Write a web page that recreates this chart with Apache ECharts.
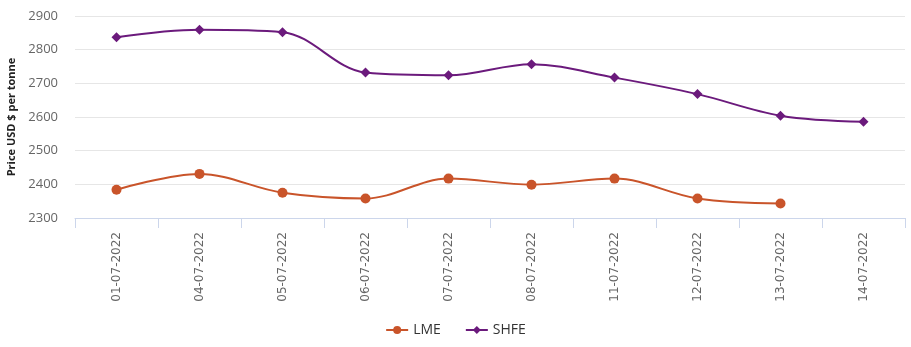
<!DOCTYPE html>
<html>
<head>
<meta charset="utf-8">
<script src="https://cdn.jsdelivr.net/npm/echarts@6/dist/echarts.min.js"></script>
<style>
html,body{margin:0;padding:0;background:#fff;}
#chart{width:911px;height:347px;}
</style>
</head>
<body>
<div id="chart"></div>
<script>
var categories = ['01-07-2022','04-07-2022','05-07-2022','06-07-2022','07-07-2022','08-07-2022','11-07-2022','12-07-2022','13-07-2022','14-07-2022'];
var lmeValues = [2384, 2431, 2375, 2358, 2417, 2399, 2417, 2358, 2343, null];
var shfeValues = [2837, 2859, 2852, 2732, 2724, 2757, 2717, 2668, 2604, 2586];
var yTicks = { min: 2300, max: 2900, interval: 100 };

var chart = echarts.init(document.getElementById('chart'));
chart.setOption({
  animation: false,
  backgroundColor: '#fff',
  grid: { left: 75, right: 6, top: 16, bottom: 129, containLabel: false, outerBoundsMode: 'none' },
  legend: {
    bottom: 5,
    left: 'center',
    itemWidth: 22,
    itemHeight: 10,
    itemGap: 24,
    textStyle: { color: '#333', fontSize: 14, fontFamily: 'Liberation Sans Narrow, Open Sans' },
    data: ['LME', 'SHFE']
  },
  xAxis: {
    type: 'category',
    data: categories,
    boundaryGap: true,
    axisLine: { lineStyle: { color: '#ccd6eb' } },
    axisTick: { show: true, length: 10, lineStyle: { color: '#ccd6eb' } },
    axisLabel: {
      rotate: 90,
      color: '#666',
      fontSize: 12,
      margin: 14,
      fontFamily: 'DejaVu Sans',
      interval: 0
    }
  },
  yAxis: {
    type: 'value',
    min: yTicks.min,
    max: yTicks.max,
    interval: yTicks.interval,
    name: 'Price USD $ per tonne',
    nameLocation: 'middle',
    nameGap: 55,
    nameTextStyle: { fontWeight: 'bold', fontSize: 11, color: '#222', fontFamily: 'Open Sans' },
    axisLine: { show: false },
    axisTick: { show: false },
    axisLabel: { color: '#666', fontSize: 13, margin: 17, fontFamily: 'Open Sans', formatter: function (v) { return String(v); } },
    splitLine: { lineStyle: { color: '#e6e6e6' } }
  },
  series: [
    {
      name: 'LME',
      type: 'line',
      data: lmeValues,
      smooth: 0.35,
      symbol: 'circle',
      symbolSize: 10,
      itemStyle: { color: '#c9542a' },
      lineStyle: { width: 2, color: '#c9542a' }
    },
    {
      name: 'SHFE',
      type: 'line',
      data: shfeValues,
      smooth: 0.35,
      symbol: 'diamond',
      symbolSize: 10,
      itemStyle: { color: '#6b1a7c' },
      lineStyle: { width: 2, color: '#6b1a7c' }
    }
  ]
});
</script>
</body>
</html>
